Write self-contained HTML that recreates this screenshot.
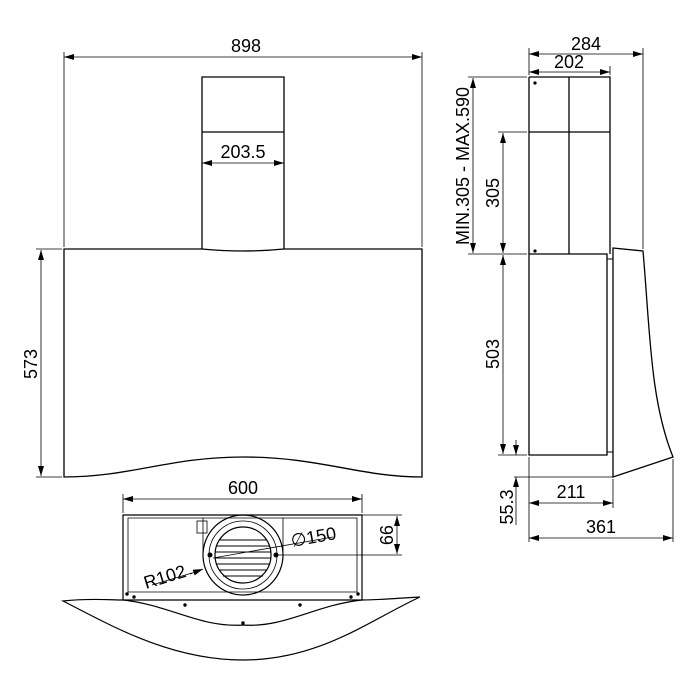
<!DOCTYPE html>
<html><head><style>body{margin:0;background:#fff}svg{display:block}</style></head><body>
<svg width="700" height="700" viewBox="0 0 700 700" xmlns="http://www.w3.org/2000/svg" font-family="Liberation Sans, sans-serif" font-size="18" fill="none" stroke="#000">
<defs>
<marker id="a" viewBox="0 0 10 6" refX="10" refY="3" markerWidth="11" markerHeight="6" orient="auto-start-reverse" markerUnits="userSpaceOnUse"><path d="M0,0L10,3L0,6z" fill="#000" stroke="none"/></marker>
</defs>
<!-- FRONT VIEW -->
<g stroke-width="1.3">
<path d="M64,249 L202,249 Q243,253 284,249 L422,249 L422,477 C360,477 320,457 243,457 C170,457 130,477 64,477 Z"/>
<path d="M202,249 V77 H284 V249 M202,132 H284"/>
</g>
<g stroke-width="0.8">
<path d="M64,247 V52 M422,247 V52"/>
<line x1="64" y1="57" x2="422" y2="57" marker-start="url(#a)" marker-end="url(#a)"/>
<line x1="202" y1="163" x2="284" y2="163" marker-start="url(#a)" marker-end="url(#a)"/>
<path d="M36,249 H62 M36,477 H62"/>
<line x1="41" y1="250" x2="41" y2="476" marker-start="url(#a)" marker-end="url(#a)"/>
</g>
<g fill="#000" stroke="none">
<text x="246" y="52" text-anchor="middle">898</text>
<text x="243" y="158" text-anchor="middle">203.5</text>
<text transform="translate(37,364) rotate(-90)" text-anchor="middle">573</text>
</g>
<!-- BOTTOM VIEW -->
<g stroke-width="1.2">
<path d="M123,600 V515 H362 V600"/>
<path d="M128,592 V518 H357 V592 Z" stroke-width="0.8"/>
<path d="M203,518 V555 M283,518 V555" stroke-width="0.8"/>
<circle cx="243" cy="555" r="40"/>
<circle cx="243" cy="555" r="34" stroke-width="0.8"/>
<circle cx="243" cy="555" r="28"/>
<path d="M219,540H267 M216,546H270 M215,552H271 M215,558H271 M216,564H270 M219,570H267 M223,576H263" stroke-width="0.9"/>
<rect x="197" y="521" width="10" height="12" stroke-width="0.8"/>
<path d="M63,601 C90,598 110,600 123,600 H362 C380,600 400,598 420,597 C370,620 320,660 243,660 C170,660 110,625 63,601 Z"/>
<path d="M123,600 C170,605 200,628 243,625 C285,628 315,605 362,600"/>
</g>
<g fill="#000" stroke="none">
<circle cx="127" cy="594" r="1.7"/><circle cx="134" cy="597" r="1.7"/><circle cx="185" cy="605" r="1.7"/><circle cx="243" cy="623" r="1.7"/><circle cx="300" cy="605" r="1.7"/><circle cx="351" cy="597" r="1.7"/><circle cx="358" cy="594" r="1.7"/>
<circle cx="210" cy="555" r="2.5"/><circle cx="276" cy="555" r="2.5"/>
</g>
<g stroke-width="0.8">
<path d="M123,513 V494 M362,513 V494"/>
<line x1="123" y1="499" x2="362" y2="499" marker-start="url(#a)" marker-end="url(#a)"/>
<path d="M362,515 H402 M276,555 H402"/>
<line x1="397" y1="516" x2="397" y2="554" marker-start="url(#a)" marker-end="url(#a)"/>
<path d="M213,558 L333,537"/>
<path d="M152,585 L192,573"/>
<line x1="190" y1="574" x2="203" y2="569" marker-end="url(#a)"/>
</g>
<g fill="#000" stroke="none">
<text x="243" y="494" text-anchor="middle">600</text>
<text transform="translate(380,535) rotate(90)" text-anchor="middle">99</text>
<text transform="translate(292,547) rotate(-10)">∅150</text>
<text transform="translate(146,589) rotate(-17)">R102</text>
</g>
<!-- SIDE VIEW -->
<g stroke-width="1.3">
<path d="M529,77 H610 V254 M529,77 V455 H607 V254 H529 M569,77 V254 M529,132 H610"/>
<path d="M607,259 H613 V452 H607" stroke-width="0.9"/>
<path d="M613,248 L643,251 C650,330 650,400 673,457 L613,477 Z"/>
</g>
<g fill="#000" stroke="none"><circle cx="535" cy="83" r="1.6"/><circle cx="535" cy="251" r="1.6"/></g>
<g stroke-width="0.8">
<path d="M529,75 V48 M643,249 V48 M610,75 V66"/>
<line x1="529" y1="54" x2="643" y2="54" marker-start="url(#a)" marker-end="url(#a)"/>
<line x1="529" y1="72" x2="610" y2="72" marker-start="url(#a)" marker-end="url(#a)"/>
<path d="M468,77 H527 M498,132 H527 M468,254 H527 M498,455 H527 M514,477 H613"/>
<line x1="473" y1="78" x2="473" y2="253" marker-start="url(#a)" marker-end="url(#a)"/>
<line x1="503" y1="133" x2="503" y2="253" marker-start="url(#a)" marker-end="url(#a)"/>
<line x1="503" y1="255" x2="503" y2="454" marker-start="url(#a)" marker-end="url(#a)"/>
<line x1="516" y1="440" x2="516" y2="455" marker-end="url(#a)"/>
<line x1="516" y1="525" x2="516" y2="477" marker-end="url(#a)"/>
<path d="M529,457 V542 M613,479 V508 M673,459 V542"/>
<line x1="529" y1="503" x2="613" y2="503" marker-start="url(#a)" marker-end="url(#a)"/>
<line x1="529" y1="538" x2="673" y2="538" marker-start="url(#a)" marker-end="url(#a)"/>
</g>
<g fill="#000" stroke="none">
<text x="586" y="50" text-anchor="middle">284</text>
<text x="569" y="68" text-anchor="middle">202</text>
<text transform="translate(469,166) rotate(-90)" text-anchor="middle">MIN.305  -  MAX.590</text>
<text transform="translate(499,193) rotate(-90)" text-anchor="middle">305</text>
<text transform="translate(499,354) rotate(-90)" text-anchor="middle">503</text>
<text transform="translate(513,507) rotate(-90)" text-anchor="middle">55.3</text>
<text x="571" y="498" text-anchor="middle">211</text>
<text x="601" y="533" text-anchor="middle">361</text>
</g>
</svg>
</body></html>
